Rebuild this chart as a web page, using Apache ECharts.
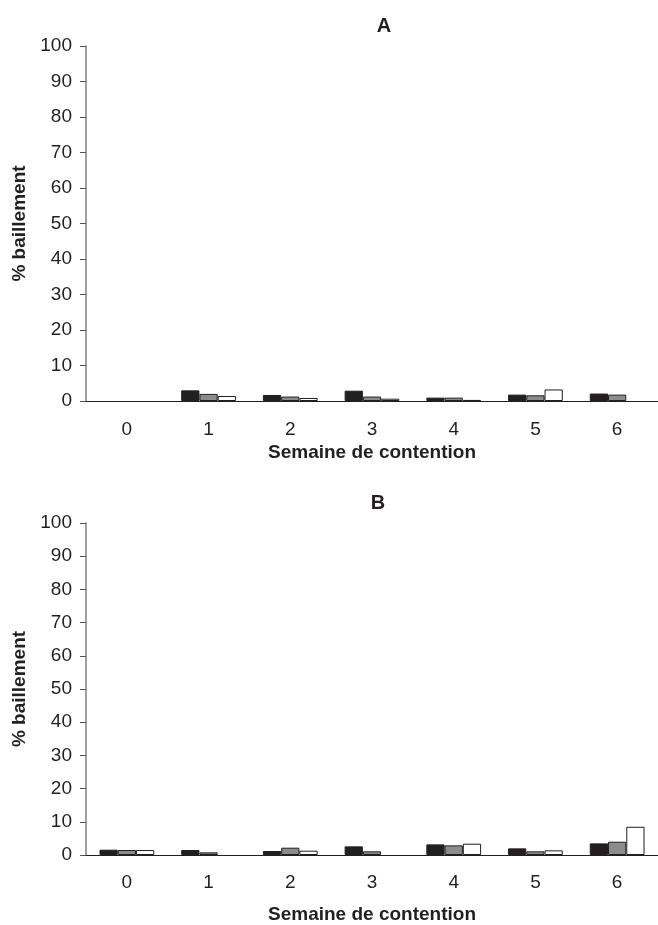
<!DOCTYPE html>
<html>
<head>
<meta charset="utf-8">
<script src="https://cdn.jsdelivr.net/npm/echarts@6/dist/echarts.min.js"></script>
<style>
  html, body { margin: 0; padding: 0; background: #fff; }
  #chart { width: 658px; height: 925px; }
</style>
</head>
<body>
<div id="chart"></div>
<script>
const chart = echarts.init(document.getElementById("chart"));

// semaines de contention
const categories = ["0", "1", "2", "3", "4", "5", "6"];
const yTicks = [0, 10, 20, 30, 40, 50, 60, 70, 80, 90, 100];

// panel A
const aNoir = [0, 3.0, 1.7, 2.9, 0.95, 1.8, 2.1];
const aGris = [0, 2.0, 1.25, 1.25, 0.95, 1.6, 1.8];
const aBlanc = [0, 1.4, 0.85, 0.65, 0.3, 3.25, 0];

// panel B
const bNoir = [1.6, 1.5, 1.2, 2.6, 3.2, 2.0, 3.5];
const bGris = [1.5, 0.8, 2.2, 1.1, 2.9, 1.1, 4.0];
const bBlanc = [1.5, 0, 1.3, 0, 3.4, 1.4, 8.5];

const ink = "#231f20";
const font = "Liberation Sans";

function xAxis(idx, labelMargin, nameGap) {
	return {
		type: "category",
		gridIndex: idx,
		data: categories,
		name: "Semaine de contention",
		nameLocation: "middle",
		nameGap: nameGap,
		nameTextStyle: { fontFamily: font, fontSize: 19, fontWeight: "bold", color: ink },
		axisLine: { lineStyle: { color: ink, width: 1 } },
		axisTick: { length: 6, lineStyle: { color: ink } },
		axisLabel: { margin: labelMargin, fontFamily: font, fontSize: 19, color: ink }
	};
}

function yAxis(idx) {
	return {
		type: "value",
		gridIndex: idx,
		min: yTicks[0],
		max: yTicks[yTicks.length - 1],
		interval: yTicks[1] - yTicks[0],
		name: "% baillement",
		nameLocation: "middle",
		nameGap: 54,
		nameTextStyle: { fontFamily: font, fontSize: 19, fontWeight: "bold", color: ink },
		splitLine: { show: false },
		axisLine: { show: true, lineStyle: { color: "#808080", width: 1.5 } },
		axisTick: { show: true, length: 6, lineStyle: { color: "#555" } },
		axisLabel: { margin: 14, fontFamily: font, fontSize: 19, color: ink }
	};
}

// empty cells (0) are not drawn, as in the original
function bar(name, data, color, xi) {
	return {
		name: name,
		type: "bar",
		xAxisIndex: xi,
		yAxisIndex: xi,
		data: data.map(v => (v === 0 ? "-" : v)),
		barGap: "0%",
		barCategoryGap: "33%",
		itemStyle: { color: color, borderColor: ink, borderWidth: 1 },
		animation: false
	};
}

const option = {
	backgroundColor: "#fff",
	title: [
		{ text: "A", left: 379, top: 11, textAlign: "center",
			textStyle: { fontFamily: font, fontSize: 20, fontWeight: "bold", color: ink } },
		{ text: "B", left: 373, top: 488, textAlign: "center",
			textStyle: { fontFamily: font, fontSize: 20, fontWeight: "bold", color: ink } }
	],
	grid: [
		{ left: 86, top: 46, width: 581, height: 355 },
		{ left: 86, top: 523, width: 581, height: 333.5 }
	],
	xAxis: [xAxis(0, 19, 42), xAxis(1, 18, 50)],
	yAxis: [yAxis(0), yAxis(1)],
	series: [
		bar("A noir", aNoir, ink, 0),
		bar("A gris", aGris, "#8c8c8c", 0),
		bar("A blanc", aBlanc, "#ffffff", 0),
		bar("B noir", bNoir, ink, 1),
		bar("B gris", bGris, "#8c8c8c", 1),
		bar("B blanc", bBlanc, "#ffffff", 1)
	]
};

chart.setOption(option);
window.onresize = chart.resize;
</script>
</body>
</html>
